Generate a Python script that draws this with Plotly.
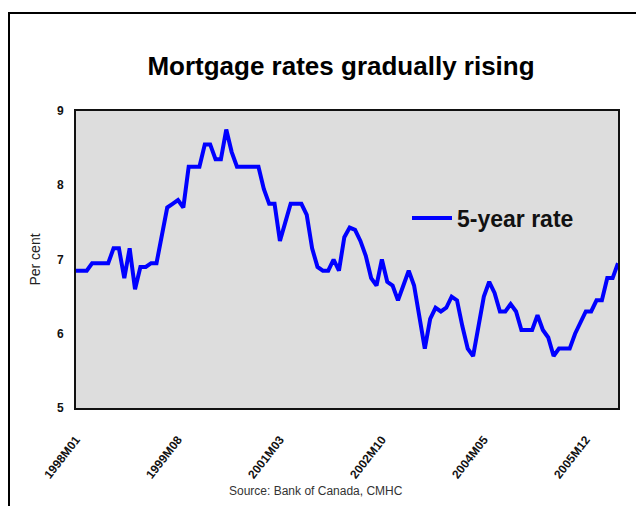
import plotly.graph_objects as go

# Monthly 5-year conventional mortgage rate, 1998M01 .. 2006M06
months = [f"{y}M{m:02d}" for y in range(1998, 2007) for m in range(1, 13)][:102]

rate_5yr = [
    6.85, 6.85, 6.85, 6.95, 6.95, 6.95, 6.95, 7.15, 7.15, 6.75, 7.15, 6.60,   # 1998
    6.90, 6.90, 6.95, 6.95, 7.30, 7.70, 7.75, 7.80, 7.70, 8.25, 8.25, 8.25,   # 1999
    8.55, 8.55, 8.35, 8.35, 8.75, 8.45, 8.25, 8.25, 8.25, 8.25, 8.25, 7.95,   # 2000
    7.75, 7.75, 7.25, 7.50, 7.75, 7.75, 7.75, 7.60, 7.15, 6.90, 6.85, 6.85,   # 2001
    7.00, 6.85, 7.30, 7.43, 7.40, 7.25, 7.05, 6.75, 6.65, 7.00, 6.70, 6.65,   # 2002
    6.45, 6.65, 6.85, 6.65, 6.20, 5.80, 6.20, 6.35, 6.30, 6.35, 6.50, 6.45,   # 2003
    6.10, 5.80, 5.70, 6.10, 6.50, 6.70, 6.55, 6.30, 6.30, 6.40, 6.30, 6.05,   # 2004
    6.05, 6.05, 6.25, 6.05, 5.95, 5.70, 5.80, 5.80, 5.80, 6.00, 6.15, 6.30,   # 2005
    6.30, 6.45, 6.45, 6.75, 6.75, 6.95,                                       # 2006
]

tick_labels = ["1998M01", "1999M08", "2001M03", "2002M10", "2004M05", "2005M12"]
y_ticks = [5, 6, 7, 8, 9]

title_text = "Mortgage rates gradually rising"
series_name = "5-year rate"
source_text = "Source: Bank of Canada, CMHC"

OFF = 8  # page body margin
W, H = 644 - OFF, 506 - OFF
L, T = 76 - OFF, 111 - OFF
R = W - (618 - OFF)
B = H - (408 - OFF)
pw, ph = W - L - R, H - T - B


def px_x(p):
    return (p - OFF - L) / pw


def px_y(p):
    return (H - B - (p - OFF)) / ph


fig = go.Figure()
fig.add_trace(go.Scatter(
    x=months, y=rate_5yr, mode="lines", name=series_name,
    line=dict(color="#0000FF", width=4),
))

sans = "Liberation Sans, Arial, sans-serif"

fig.update_layout(
    width=W, height=H,
    margin=dict(l=L, r=R, t=T, b=B, autoexpand=False),
    paper_bgcolor="white",
    plot_bgcolor="#DDDDDD",
    title=dict(
        text=title_text, xref="container", x=(341 - OFF) / W, xanchor="center",
        yref="container", y=1 - (66 - OFF) / H, yanchor="middle",
        font=dict(family=sans, size=26, color="black", weight="bold"),
    ),
    showlegend=True,
    legend=dict(
        x=px_x(407), xanchor="left", y=px_y(218), yanchor="middle",
        bgcolor="rgba(0,0,0,0)", itemwidth=40,
        font=dict(family=sans, size=23, color="#111", weight="bold"),
    ),
    xaxis=dict(
        type="category", categoryorder="array", categoryarray=months,
        range=[0, len(months) - 1],
        tickmode="array", tickvals=tick_labels, ticktext=tick_labels,
        tickangle=-52, automargin=False,
        tickfont=dict(family=sans, size=12, color="#111", weight="bold"),
        ticklabelstandoff=18,
        showgrid=False, zeroline=False,
        showline=True, mirror=True, linecolor="#111", linewidth=2,
        ticks="",
    ),
    yaxis=dict(
        range=[5, 9], tickmode="array", tickvals=y_ticks, automargin=False,
        tickfont=dict(family=sans, size=12, color="#111", weight="bold"),
        showgrid=False, zeroline=False,
        showline=True, mirror=True, linecolor="#111", linewidth=2,
        ticks="", ticklabelstandoff=8,
        title=dict(text="Per cent", standoff=13,
                   font=dict(family=sans, size=14, color="#222")),
    ),
    annotations=[dict(
        text=source_text, xref="paper", yref="paper",
        x=px_x(316), y=px_y(491), xanchor="center", yanchor="middle", showarrow=False,
        font=dict(family=sans, size=12, color="#333"),
    )],
    shapes=[dict(
        type="rect", xref="paper", yref="paper", layer="below",
        x0=px_x(9), x1=px_x(670), y0=px_y(13), y1=px_y(540),
        line=dict(color="black", width=2), fillcolor="rgba(0,0,0,0)",
    )],
)

fig.write_html("out.html")
